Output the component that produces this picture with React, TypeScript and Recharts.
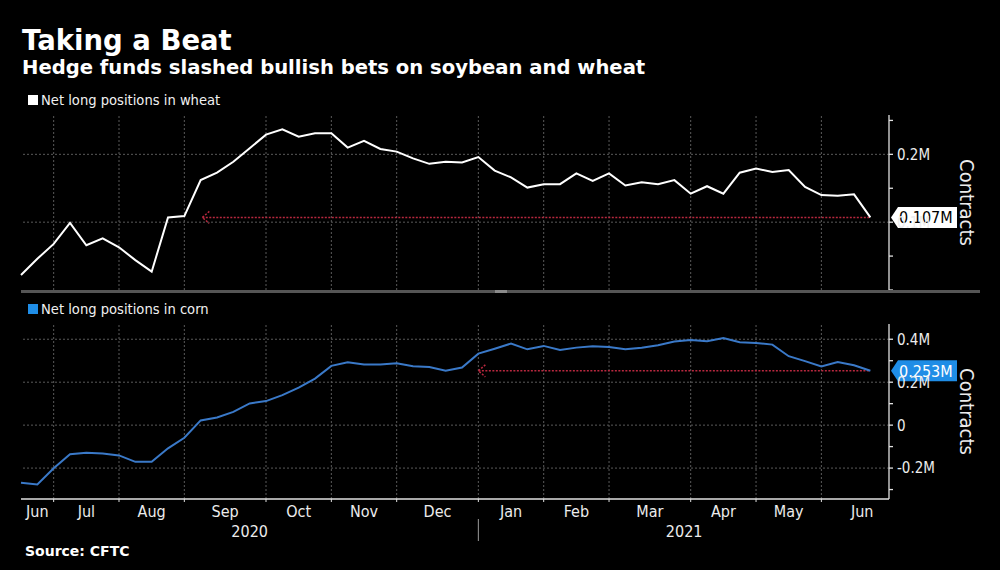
import { Line, LineChart, ReferenceDot, ReferenceLine, XAxis, YAxis } from 'recharts'

// weekly CFTC reports, 2020-06-23 .. 2021-06-22 (million contracts)
const WHEAT = [
  0.022, 0.046, 0.068, 0.099, 0.066, 0.076, 0.063, 0.044, 0.027, 0.107,
  0.109, 0.162, 0.173, 0.189, 0.209, 0.229, 0.237, 0.226, 0.231, 0.231,
  0.21, 0.22, 0.208, 0.204, 0.194, 0.186, 0.189, 0.188, 0.196, 0.176,
  0.166, 0.151, 0.156, 0.156, 0.172, 0.161, 0.172, 0.154, 0.159, 0.156,
  0.162, 0.142, 0.153, 0.142, 0.173, 0.179, 0.174, 0.177, 0.152, 0.14,
  0.139, 0.141, 0.107,
]
const CORN = [
  -0.268, -0.276, -0.201, -0.136, -0.129, -0.132, -0.141, -0.171, -0.171, -0.108,
  -0.059, 0.022, 0.036, 0.062, 0.101, 0.112, 0.14, 0.175, 0.217, 0.276,
  0.293, 0.282, 0.282, 0.288, 0.274, 0.271, 0.253, 0.268, 0.333, 0.356,
  0.38, 0.353, 0.369, 0.35, 0.361, 0.367, 0.364, 0.353, 0.36, 0.372,
  0.389, 0.397, 0.391, 0.406, 0.386, 0.383, 0.375, 0.321, 0.298, 0.273,
  0.294, 0.279, 0.253,
]

// index of the first weekly report in each month
const MONTH_STARTS = [2, 6, 10, 15, 19, 23, 28, 32, 36, 41, 45, 49]
const MONTH_NAMES = ['Jun', 'Jul', 'Aug', 'Sep', 'Oct', 'Nov', 'Dec', 'Jan', 'Feb', 'Mar', 'Apr', 'May', 'Jun']
const MONTH_MIDS = [1, 4, 8, 12.5, 17, 21, 25.5, 30, 34, 38.5, 43, 47, 51.5]
const YEARS = ['2020', '2021']
const YEAR_MIDS = [14, 40.6]
const YEAR_SPLIT = 28

const WHEAT_TICKS = [0, 0.05, 0.1, 0.15, 0.2, 0.25]
const WHEAT_MAJOR = [0.1, 0.2]
const CORN_TICKS = [-0.3, -0.2, -0.1, 0, 0.1, 0.2, 0.3, 0.4]
const CORN_MAJOR = [-0.2, 0, 0.2, 0.4]

const wheatLast = WHEAT[WHEAT.length - 1]
const cornLast = CORN[CORN.length - 1]
const WHEAT_SINCE = 11.1
const CORN_SINCE = 28

const wheatData = WHEAT.map((v, i) => ({ week: i, wheat: v }))
const cornData = CORN.map((v, i) => ({ week: i, corn: v }))

const X_DOMAIN = [0, 53.14]
const AXIS_FONT = "'DejaVu Sans Condensed', 'Liberation Sans Narrow', 'DejaVu Sans', sans-serif"
const TITLE_FONT = "'DejaVu Sans', sans-serif"
const GRID = '#5a5a5a'
const ARROW = '#b8283f'
const BLUE = '#3a79c8'
const BADGE_BLUE = '#1f8de6'

const fmt = (v: number) => (v === 0 ? '0' : `${v}M`)

function YTick(props: any) {
  const { x, y, payload, majors } = props
  const v = payload.value
  return (
    <g>
      <line x1={x} x2={x + 4} y1={y} y2={y} stroke="#e0e0e0" strokeWidth={1.3} />
      {majors.includes(v) && (
        <text x={x + 8} y={y} dy="0.36em" fill="#ececec" fontSize={15} fontFamily={AXIS_FONT}>
          {fmt(v)}
        </text>
      )}
    </g>
  )
}

function XTick(props: any) {
  const { x, y, payload } = props
  const v = payload.value
  if (MONTH_STARTS.includes(v)) {
    return (
      <g>
        <line x1={x} x2={x} y1={y} y2={y + 3} stroke="#e0e0e0" />
        {v === YEAR_SPLIT && <line x1={x} x2={x} y1={y + 20} y2={y + 42} stroke="#9a9a9a" />}
      </g>
    )
  }
  const m = MONTH_MIDS.indexOf(v)
  if (m >= 0) {
    return (
      <text x={x} y={y + 18} textAnchor="middle" fill="#ececec" fontSize={16} fontFamily={AXIS_FONT}>
        {MONTH_NAMES[m]}
      </text>
    )
  }
  const yi = YEAR_MIDS.indexOf(v)
  return (
    <text x={x} y={y + 38} textAnchor="middle" fill="#ececec" fontSize={16} fontFamily={AXIS_FONT}>
      {YEARS[yi]}
    </text>
  )
}

function contractsLabel(props: any) {
  const vb = props.viewBox
  const cx = vb.x + 78
  const cy = vb.y + vb.height / 2
  return (
    <text
      x={cx}
      y={cy}
      transform={`rotate(90 ${cx} ${cy})`}
      textAnchor="middle"
      dy="0.35em"
      fill="#ececec"
      fontSize={20}
      fontFamily={AXIS_FONT}
    >
      Contracts
    </text>
  )
}

function badge(text: string, bg: string, fg: string) {
  return (props: any) => {
    const vb = props.viewBox
    const x0 = vb.x + vb.width + 2
    const cy = vb.y
    const w = 66
    const h = 10.5
    return (
      <g>
        <path
          d={`M${x0},${cy} L${x0 + 7},${cy - h} L${x0 + w},${cy - h} L${x0 + w},${cy + h} L${x0 + 7},${cy + h} Z`}
          fill={bg}
        />
        <text x={x0 + 8} y={cy} dy="0.36em" fill={fg} fontSize={16} fontFamily={AXIS_FONT}>
          {text}
        </text>
      </g>
    )
  }
}

function arrowHead(props: any) {
  const { cx, cy } = props
  return (
    <path
      d={`M${cx + 7},${cy - 6} L${cx},${cy} L${cx + 7},${cy + 6}`}
      fill="none"
      stroke={ARROW}
      strokeWidth={1.5}
      strokeDasharray="2 1.5"
    />
  )
}

function Legend({ top, color, label }: { top: number; color: string; label: string }) {
  return (
    <div style={{ position: 'absolute', left: 28, top, display: 'flex', alignItems: 'center', gap: 3 }}>
      <span style={{ width: 10, height: 10, background: color, display: 'inline-block' }} />
      <span style={{ color: '#f0f0f0', fontSize: 14.6, fontFamily: AXIS_FONT }}>{label}</span>
    </div>
  )
}

export default function App() {
  return (
    <div
      style={{
        position: 'absolute',
        left: 0,
        top: 0,
        width: 1000,
        height: 570,
        background: '#000',
        overflow: 'hidden',
      }}
    >
      <div
        style={{
          position: 'absolute',
          left: 22,
          top: 24,
          color: '#fff',
          fontFamily: TITLE_FONT,
          fontWeight: 'bold',
          fontSize: 27.5,
          lineHeight: '32px',
        }}
      >
        Taking a Beat
      </div>
      <div
        style={{
          position: 'absolute',
          left: 22,
          top: 56,
          color: '#fff',
          fontFamily: TITLE_FONT,
          fontWeight: 'bold',
          fontSize: 19.6,
          lineHeight: '24px',
        }}
      >
        Hedge funds slashed bullish bets on soybean and wheat
      </div>
      <Legend top={91} color="#ffffff" label="Net long positions in wheat" />
      <Legend top={300} color={BADGE_BLUE} label="Net long positions in corn" />

      <div style={{ position: 'absolute', left: 0, top: 0 }}>
        <LineChart width={1000} height={300} data={wheatData} margin={{ top: 115, left: 21, right: 11, bottom: 10 }}>
          <XAxis dataKey="week" type="number" domain={X_DOMAIN} hide />
          <YAxis
            orientation="right"
            width={100}
            domain={[0, 0.258]}
            ticks={WHEAT_TICKS}
            interval={0}
            axisLine={{ stroke: '#e0e0e0', strokeWidth: 1.3 }}
            tickLine={false}
            tickSize={0}
            tickMargin={0}
            tick={<YTick majors={WHEAT_MAJOR} />}
            label={contractsLabel}
          />
          {WHEAT_MAJOR.map((v) => (
            <ReferenceLine key={`h${v}`} y={v} stroke={GRID} strokeDasharray="2 2" />
          ))}
          {MONTH_STARTS.map((v) => (
            <ReferenceLine key={`v${v}`} x={v} stroke={GRID} strokeDasharray="2 2" />
          ))}
          <ReferenceLine
            segment={[
              { x: WHEAT_SINCE, y: wheatLast },
              { x: WHEAT.length - 1, y: wheatLast },
            ]}
            stroke={ARROW}
            strokeWidth={1.5}
            strokeDasharray="2 1.5"
          />
          <ReferenceDot x={WHEAT_SINCE} y={wheatLast} r={0} shape={arrowHead} />
          <Line
            dataKey="wheat"
            stroke="#ffffff"
            strokeWidth={2}
            dot={false}
            isAnimationActive={false}
          />
          <ReferenceLine y={wheatLast} stroke="none" label={badge(`${wheatLast}M`, '#ffffff', '#000000')} />
        </LineChart>
      </div>

      <div style={{ position: 'absolute', left: 21, top: 290, width: 959, height: 3, background: '#555' }} />
      <div style={{ position: 'absolute', left: 495, top: 290, width: 12, height: 3, background: '#8a8a8a' }} />

      <div style={{ position: 'absolute', left: 0, top: 300 }}>
        <LineChart width={1000} height={270} data={cornData} margin={{ top: 24, left: 21, right: 11, bottom: 21 }}>
          <XAxis
            dataKey="week"
            type="number"
            domain={X_DOMAIN}
            ticks={[...MONTH_STARTS, ...MONTH_MIDS, ...YEAR_MIDS]}
            interval={0}
            height={50}
            axisLine={{ stroke: '#e0e0e0', strokeWidth: 1.3 }}
            tickLine={false}
            tickSize={0}
            tickMargin={0}
            tick={<XTick />}
          />
          <YAxis
            orientation="right"
            width={100}
            domain={[-0.344, 0.471]}
            ticks={CORN_TICKS}
            interval={0}
            axisLine={{ stroke: '#e0e0e0', strokeWidth: 1.3 }}
            tickLine={false}
            tickSize={0}
            tickMargin={0}
            tick={<YTick majors={CORN_MAJOR} />}
            label={contractsLabel}
          />
          {CORN_MAJOR.map((v) => (
            <ReferenceLine key={`h${v}`} y={v} stroke={GRID} strokeDasharray="2 2" />
          ))}
          {MONTH_STARTS.map((v) => (
            <ReferenceLine key={`v${v}`} x={v} stroke={GRID} strokeDasharray="2 2" />
          ))}
          <ReferenceLine
            segment={[
              { x: CORN_SINCE, y: cornLast },
              { x: CORN.length - 1, y: cornLast },
            ]}
            stroke={ARROW}
            strokeWidth={1.5}
            strokeDasharray="2 1.5"
          />
          <ReferenceDot x={CORN_SINCE} y={cornLast} r={0} shape={arrowHead} />
          <Line dataKey="corn" stroke={BLUE} strokeWidth={2} dot={false} isAnimationActive={false} />
          <ReferenceLine y={cornLast} stroke="none" label={badge(`${cornLast}M`, BADGE_BLUE, '#ffffff')} />
        </LineChart>
      </div>

      <div
        style={{
          position: 'absolute',
          left: 25,
          top: 542,
          color: '#fff',
          fontFamily: TITLE_FONT,
          fontWeight: 'bold',
          fontSize: 14,
          lineHeight: '18px',
        }}
      >
        Source: CFTC
      </div>
    </div>
  )
}
